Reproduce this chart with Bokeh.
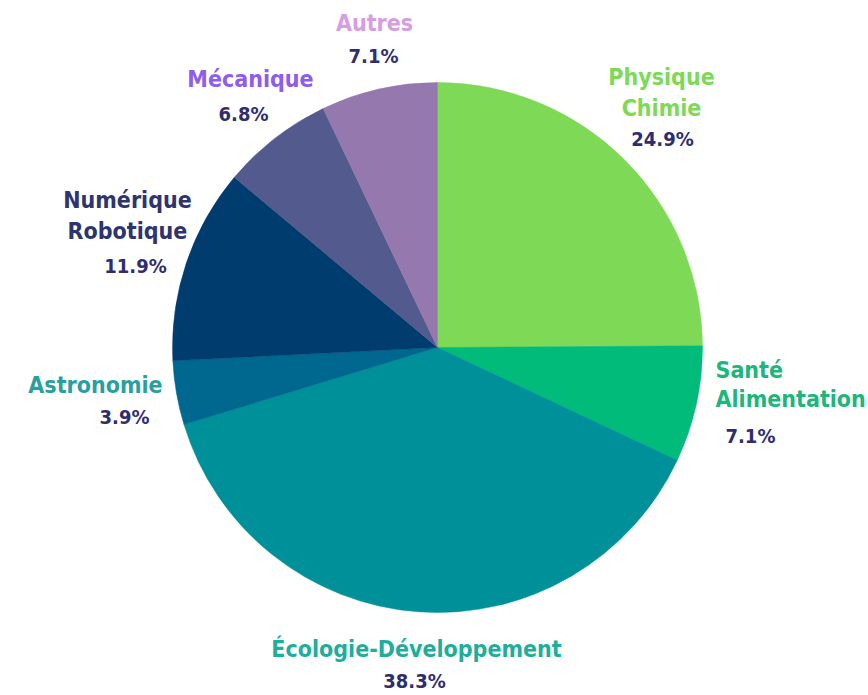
from math import pi
from bokeh.plotting import figure
from bokeh.models import ColumnDataSource, Range1d
from bokeh.core.properties import value
from bokeh.embed import file_html
from bokeh.resources import INLINE

# ---- data ----
categories = ["Physique Chimie", "Santé Alimentation", "Écologie-Développement",
              "Astronomie", "Numérique Robotique", "Mécanique", "Autres"]
shares = [24.9, 7.1, 38.3, 3.9, 11.9, 6.8, 7.1]
name_lines = [["Physique", "Chimie"], ["Santé", "Alimentation"], ["Écologie-Développement"],
              ["Astronomie"], ["Numérique", "Robotique"], ["Mécanique"], ["Autres"]]
pct_labels = ["24.9%", "7.1%", "38.3%", "3.9%", "11.9%", "6.8%", "7.1%"]

# ---- styles / layout ----
slice_colors = ["#7ED957", "#00BB7A", "#00909A", "#00688F", "#003D6E", "#525A8E", "#9578AE"]
name_colors = ["#7ED957", "#1DB67C", "#1FAE9B", "#2A9FA2", "#2E3470", "#8F5CF0", "#D69DE2"]
pct_color = "#2E2E6E"
W, H = 868, 695
CX, CY, R = 437, 347, 265
# label anchors in pixel coords: (x, first line y, line step, pct y, align, pct x)
label_layout = [
    (661, 76, 31, 138, "center", 662),
    (715, 369, 29, 435, "left", 725),
    (416, 648, 31, 680, "center", 414),
    (95, 384, 31, 416, "center", 124),
    (127, 199, 31, 265, "center", 135),
    (250, 78, 31, 113, "center", 243),
    (374, 22, 31, 55, "center", 373),
]
FONT = "DejaVu Sans Condensed"

p = figure(width=W, height=H, output_backend="svg", toolbar_location=None,
           x_range=Range1d(0, W), y_range=Range1d(0, H), min_border=0)
p.axis.visible = False
p.grid.visible = False
p.outline_line_color = None
p.background_fill_color = "white"

total = sum(shares)
starts, ends = [], []
cum = 0.0
for s in shares:
    starts.append(pi / 2 - 2 * pi * cum / total)
    cum += s
    ends.append(pi / 2 - 2 * pi * cum / total)

src = ColumnDataSource(dict(cat=categories, share=shares, start=starts, end=ends,
                            color=slice_colors))
p.wedge(x=CX, y=H - CY, radius=R, start_angle="start", end_angle="end",
        direction="clock", fill_color="color", line_color="color", line_width=0.5,
        source=src)

for i, lines in enumerate(name_lines):
    x, y0, step, py, align, px = label_layout[i]
    xs = [x] * len(lines)
    ys = [H - (y0 + k * step) for k in range(len(lines))]
    p.text(x=xs, y=ys, text=lines, text_align=align, text_baseline="middle",
           text_font=value(FONT), text_font_style="bold", text_font_size="23px",
           text_color=name_colors[i])
    p.text(x=[px], y=[H - py], text=[pct_labels[i]],
           text_align=align, text_baseline="middle",
           text_font=value(FONT), text_font_style="bold", text_font_size="20px",
           text_color=pct_color)

open("out.html", "w").write(file_html(p, INLINE))
